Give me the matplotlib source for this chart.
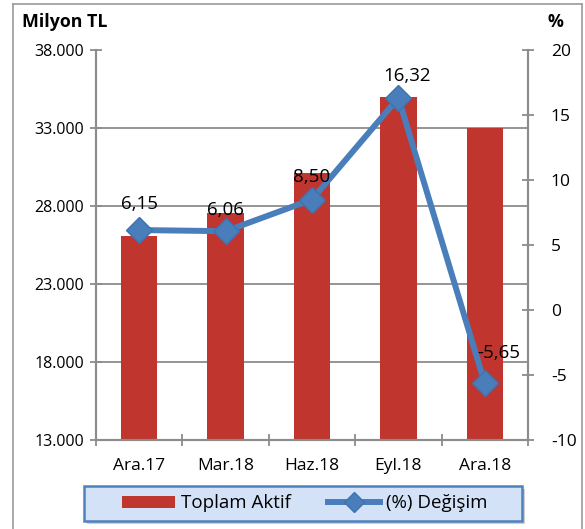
import matplotlib
matplotlib.use("Agg")
import matplotlib.pyplot as plt
from matplotlib.ticker import FuncFormatter, FixedLocator
from matplotlib.lines import Line2D
from matplotlib.patches import Patch, Rectangle

categories = ['Ara.17', 'Mar.18', 'Haz.18', 'Eyl.18', 'Ara.18']
toplam_aktif = [26100, 27550, 30100, 35000, 33000]
degisim = [6.15, 6.06, 8.50, 16.32, -5.65]
degisim_labels = ['6,15', '6,06', '8,50', '16,32', '-5,65']
left_ticks = [13000, 18000, 23000, 28000, 33000, 38000]
right_ticks = [-10, -5, 0, 5, 10, 15, 20]

plt.rcParams['font.family'] = ['Open Sans', 'DejaVu Sans']
plt.rcParams['axes.unicode_minus'] = False
FS = 11.5
FSX = 12.5
FSL = 13.5
GRAY = '#8C8C8C'
RED = '#C0362F'
BLUE = '#4A7EBB'

fig = plt.figure(figsize=(5.85, 5.29), dpi=100)
W, H = 585, 529
ax = fig.add_axes([96 / W, 1 - 440 / H, 432 / W, 390 / H])

x = list(range(len(categories)))
ax.bar(x, toplam_aktif, width=0.42, color=RED, zorder=2)
ax.set_xlim(-0.5, len(categories) - 0.5)
ax.set_ylim(13000, 38000)
ax.yaxis.set_major_locator(FixedLocator(left_ticks))
ax.yaxis.set_major_formatter(FuncFormatter(lambda v, p: f"{int(v):,}".replace(',', '.')))
for yv in left_ticks[1:-1]:
    ax.axhline(yv, color=GRAY, lw=1.3, zorder=1)
ax.set_xticks(x)
ax.set_xticklabels(categories, fontsize=FSX)
ax.xaxis.set_minor_locator(FixedLocator([i + 0.5 for i in range(-1, len(categories))]))
ax.tick_params(axis='x', which='major', length=0, pad=13)
ax.tick_params(axis='x', which='minor', direction='inout', length=8, color=GRAY, width=1.3)
ax.tick_params(axis='y', direction='inout', length=9, color=GRAY, width=1.3, labelsize=FS, pad=4)
for s in ['left', 'right', 'bottom']:
    ax.spines[s].set_color(GRAY)
    ax.spines[s].set_linewidth(1.5)
ax.spines['top'].set_visible(False)

ax2 = ax.twinx()
ax2.set_ylim(-10, 20)
ax2.yaxis.set_major_locator(FixedLocator(right_ticks))
ax2.plot(x, degisim, color=BLUE, lw=4.3, marker='D', ms=13, mfc=BLUE, mec='#3F72B0',
         solid_capstyle='round', zorder=3)
ax2.tick_params(axis='y', direction='inout', length=9, color=GRAY, width=1.3, labelsize=FSX, pad=12)
for s in ['left', 'right', 'bottom']:
    ax2.spines[s].set_color(GRAY)
    ax2.spines[s].set_linewidth(1.5)
ax2.spines['top'].set_visible(False)

offsets = [(0, 19), (0, 15), (0, 16), (6, 16), (10, 22)]
for xi, yi, lab, off in zip(x, degisim, degisim_labels, offsets):
    ax2.annotate(lab, (xi, yi), xytext=off, textcoords='offset points',
                 ha='center', va='center', fontsize=FSL, zorder=4)

fig.text(22 / W, 1 - 22 / H, 'Milyon TL', fontsize=12.8, fontweight='bold', va='center', ha='left')
fig.text(555 / W, 1 - 22 / H, '%', fontsize=12.8, fontweight='bold', va='center', ha='center')

# outer frame (partial, as in the cropped reference)
for xs, ys in [([13, 13], [529, 4]), ([13, 582], [4, 4]), ([582, 582], [4, 529])]:
    fig.add_artist(Line2D([v / W for v in xs], [1 - v / H for v in ys], color='#9A9A9A',
                          lw=1.2, transform=fig.transFigure))

# legend box with shadow
lx0, ly0, lx1, ly1 = 84, 486, 522, 521
fig.add_artist(Rectangle((lx0 / W + 3 / W, 1 - (ly1 + 3) / H), (lx1 - lx0) / W, (ly1 - ly0) / H,
                         transform=fig.transFigure, facecolor='#B0B0B0', edgecolor='none', alpha=0.6))
fig.add_artist(Rectangle((lx0 / W, 1 - ly1 / H), (lx1 - lx0) / W, (ly1 - ly0) / H,
                         transform=fig.transFigure, facecolor='#D4E2F8', edgecolor='#4F81BD', lw=1.8))

handles = [Patch(facecolor=RED, edgecolor='none'),
           Line2D([], [], color=BLUE, lw=4.3, marker='D', ms=10, mfc=BLUE, mec='#3F72B0')]
leg = fig.legend(handles, ['Toplam Aktif', '(%) Değişim'], ncol=2, loc='center',
                 bbox_to_anchor=(305 / W, 1 - 503.5 / H), fontsize=FSL, frameon=False,
                 handlelength=2.8, handleheight=0.55, columnspacing=2.0,
                 borderpad=0, handletextpad=0.3, borderaxespad=0)

fig.savefig('out.png', dpi=100)
